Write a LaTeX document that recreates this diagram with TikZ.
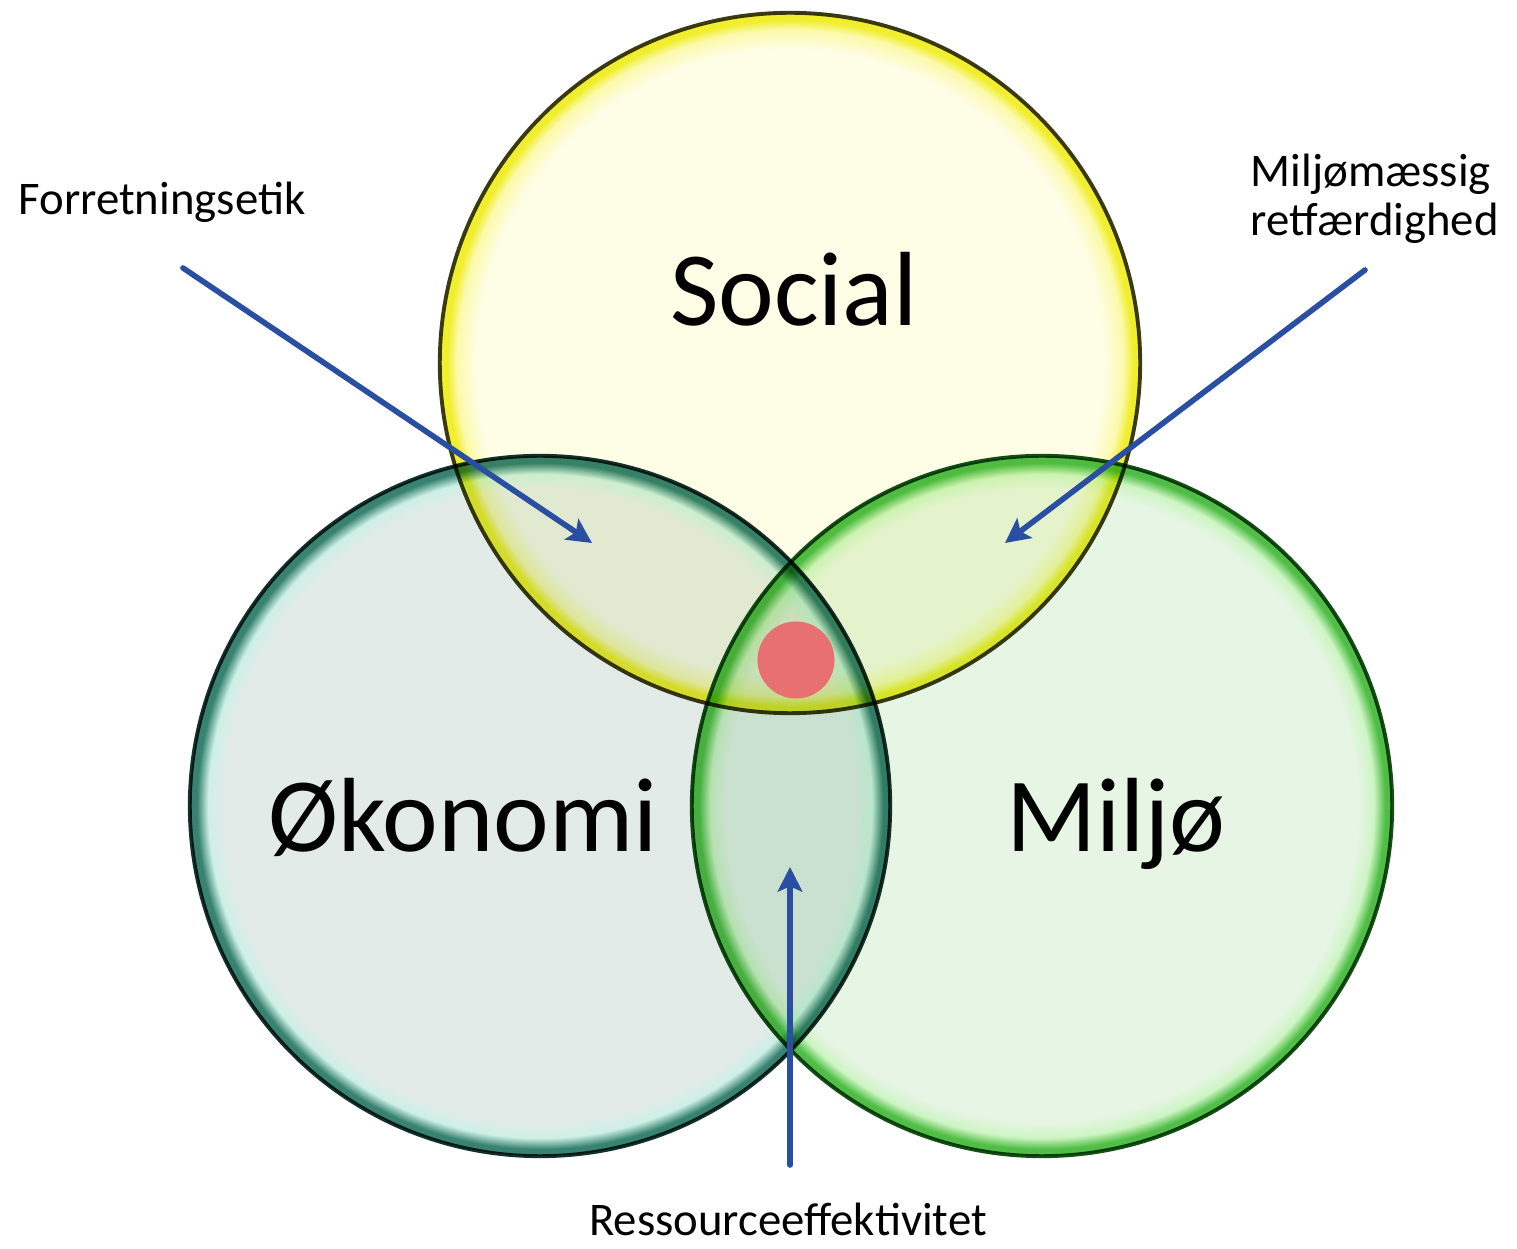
\documentclass[tikz,border=0pt]{standalone}
\usepackage{fontspec}
\setmainfont{Carlito}
\usepackage{tikz}
\usetikzlibrary{arrows.meta}
\usetikzlibrary{positioning}

\definecolor{socialin}{RGB}{254,253,230}
\definecolor{socialhi}{RGB}{252,250,170}
\definecolor{socialrim}{RGB}{240,238,45}
\definecolor{socialline}{RGB}{60,60,20}
\definecolor{okoin}{RGB}{226,235,232}
\definecolor{okohi}{RGB}{205,240,230}
\definecolor{okorim}{RGB}{55,130,112}
\definecolor{okoline}{RGB}{20,50,45}
\definecolor{miljoin}{RGB}{230,245,228}
\definecolor{miljohi}{RGB}{205,245,195}
\definecolor{miljorim}{RGB}{80,190,70}
\definecolor{miljoline}{RGB}{20,80,20}
\definecolor{dotred}{RGB}{232,112,112}
\definecolor{arrowblue}{RGB}{42,78,162}

\pgfdeclareradialshading{socialshade}{\pgfpoint{0bp}{0bp}}{color(0bp)=(socialin); color(22.4bp)=(socialin); color(23.8bp)=(socialhi); color(24.5bp)=(socialrim); color(25bp)=(socialrim); color(50bp)=(socialrim)}
\pgfdeclareradialshading{okoshade}{\pgfpoint{0bp}{0bp}}{color(0bp)=(okoin); color(22.6bp)=(okoin); color(23.7bp)=(okohi); color(24.5bp)=(okorim); color(25bp)=(okorim); color(50bp)=(okorim)}
\pgfdeclareradialshading{miljoshade}{\pgfpoint{0bp}{0bp}}{color(0bp)=(miljoin); color(22.6bp)=(miljoin); color(23.7bp)=(miljohi); color(24.5bp)=(miljorim); color(25bp)=(miljorim); color(50bp)=(miljorim)}

\tikzset{
  ring/.style={circle, minimum size=7cm, inner sep=0pt, shade, blend mode=multiply, line width=1.1pt},
  bigtxt/.style={inner sep=0pt, font=\fontsize{30}{36}\selectfont},
  smalltxt/.style={inner sep=0pt, font=\fontsize{13.3}{14}\selectfont},
  pointer/.style={->, line width=1.6pt, draw=arrowblue},
}

\begin{document}
\begin{tikzpicture}[x=0.01cm, y=-0.01cm, line cap=round, line join=round, >={Stealth[length=7pt, width=7pt, inset=1.5pt]}]
  \useasboundingbox (0,0) rectangle (1517,1249);
  %--- Økonomi
    \node[ring, shading=okoshade, draw=okoline] (okonomi) at (540,806) {};
  %--- Miljø
    \node[ring, shading=miljoshade, draw=miljoline] (miljo) at (1042,806) {};
  %--- Social
    \node[ring, shading=socialshade, draw=socialline] (social) at (790,363) {};
  %--- red dot in the middle
    \node[circle, fill=dotred, minimum size=0.77cm, inner sep=0pt] (focus) at (796,660) {};
  %--- circle names
    \node[bigtxt, anchor=base] (sociallbl) at (794,326) {Social};
    \node[bigtxt, anchor=base] (okolbl) at (463,852) {Økonomi};
    \node[bigtxt, anchor=base] (miljolbl) at (1116,852) {Miljø};
  %--- Forretningsetik
    \node[smalltxt, anchor=base west] (ethic) at (18,215) {Forretningsetik};
    \coordinate (ethicfrom) at (183,268);
    \coordinate (ethicto) at (592,543);
    \draw[pointer] (ethicfrom) -- (ethicto);
  %--- Miljømæssig retfærdighed
    \node[smalltxt, anchor=north west, align=left] (justice) at (1250,153) {Miljømæssig\\retfærdighed};
    \coordinate (justicefrom) at (1365,270);
    \coordinate (justiceto) at (1005,543);
    \draw[pointer] (justicefrom) -- (justiceto);
  %--- Ressourceeffektivitet
    \node[smalltxt, anchor=base] (resource) at (788,1235) {Ressourceeffektivitet};
    \coordinate (resourcefrom) at (790,1165);
    \coordinate (resourceto) at (790,867);
    \draw[pointer] (resourcefrom) -- (resourceto);
\end{tikzpicture}
\end{document}
